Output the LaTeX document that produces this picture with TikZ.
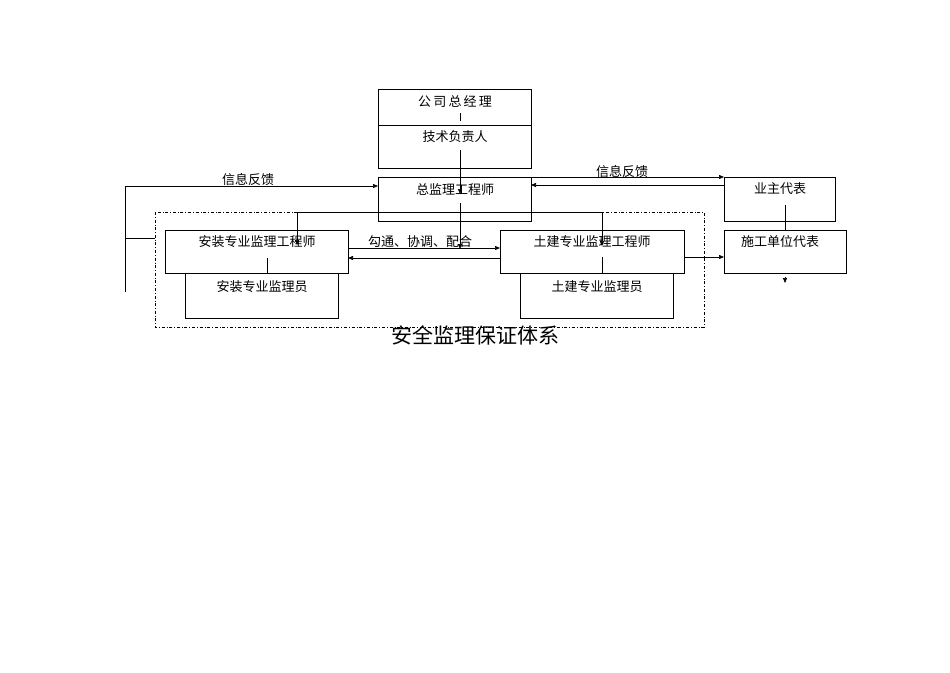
\documentclass[tikz,border=0pt]{standalone}
\usepackage{fontspec}
\setmainfont{Noto Sans CJK SC}
\usetikzlibrary{arrows.meta}
\begin{document}
\begin{tikzpicture}[x=1pt,y=-1pt,
  bx/.style={draw,line width=0.6pt,anchor=north west,inner sep=0pt},
  lb/.style={font=\fontsize{13}{13}\selectfont,inner sep=0pt},
  ln/.style={line width=0.6pt},
  ar/.style={ln,-{Triangle[length=5pt,width=4pt]}}]
\useasboundingbox (0,0) rectangle (950,672);
% boxes
\node[bx,minimum width=153pt,minimum height=36pt] (gm) at (378,89) {};
\node[bx,minimum width=153pt,minimum height=43pt] (tech) at (378,125) {};
\node[bx,minimum width=153pt,minimum height=44pt] (chief) at (378,177) {};
\node[bx,minimum width=183pt,minimum height=43pt] (az) at (165,230) {};
\node[bx,minimum width=153pt,minimum height=45pt] (azy) at (185,273) {};
\node[bx,minimum width=184pt,minimum height=43pt] (tj) at (500,230) {};
\node[bx,minimum width=153pt,minimum height=45pt] (tjy) at (520,273) {};
\node[bx,minimum width=111pt,minimum height=44pt] (owner) at (724,177) {};
\node[bx,minimum width=122pt,minimum height=43pt] (con) at (724,230) {};
% labels
\node[lb] (t1) at (455,102) {公\,司\,总\,经\,理};
\node[lb] (t2) at (455,137) {技术负责人};
\node[lb] (t3) at (455,190) {总监理工程师};
\node[lb] (t4) at (257,242) {安装专业监理工程师};
\node[lb] (t5) at (262,287) {安装专业监理员};
\node[lb] (t6) at (592,242) {土建专业监理工程师};
\node[lb] (t7) at (597,287) {土建专业监理员};
\node[lb] (t8) at (780,189) {业主代表};
\node[lb] (t9) at (780,242) {施工单位代表};
\node[lb] (f1) at (248,180) {信息反馈};
\node[lb] (f2) at (622,172) {信息反馈};
\node[lb] (f3) at (420,242) {勾通、协调、配合};
\node[font=\fontsize{21}{21}\selectfont,inner sep=0pt] (title) at (475,335) {安全监理保证体系};
% dash-dot frame
\draw[ln,dash dot] (155,212) rectangle (704,327);
% connectors
\draw[ln] (460,113) -- (460,121);
\draw[ar] (460,150) -- (460,194);
\draw[ar] (460,203) -- (460,249);
\draw[ln] (297,212) -- (602,212);
\draw[ar] (297,212) -- (297,245);
\draw[ar] (602,212) -- (602,246);
\draw[ln] (267,258) -- (267,273);
\draw[ln] (602,257) -- (602,273);
\draw[ar] (348,248) -- (500,248);
\draw[ar] (500,258) -- (348,258);
\draw[ar] (125,292) -- (125,186) -- (378,186);
\draw[ln] (125,238) -- (155,238);
\draw[ar] (531,177) -- (724,177);
\draw[ar] (724,185) -- (531,185);
\draw[ln] (785,205) -- (785,230);
\draw[ar] (684,257) -- (724,257);
\draw[ar] (785,277) -- (785,283);
\end{tikzpicture}
\end{document}
